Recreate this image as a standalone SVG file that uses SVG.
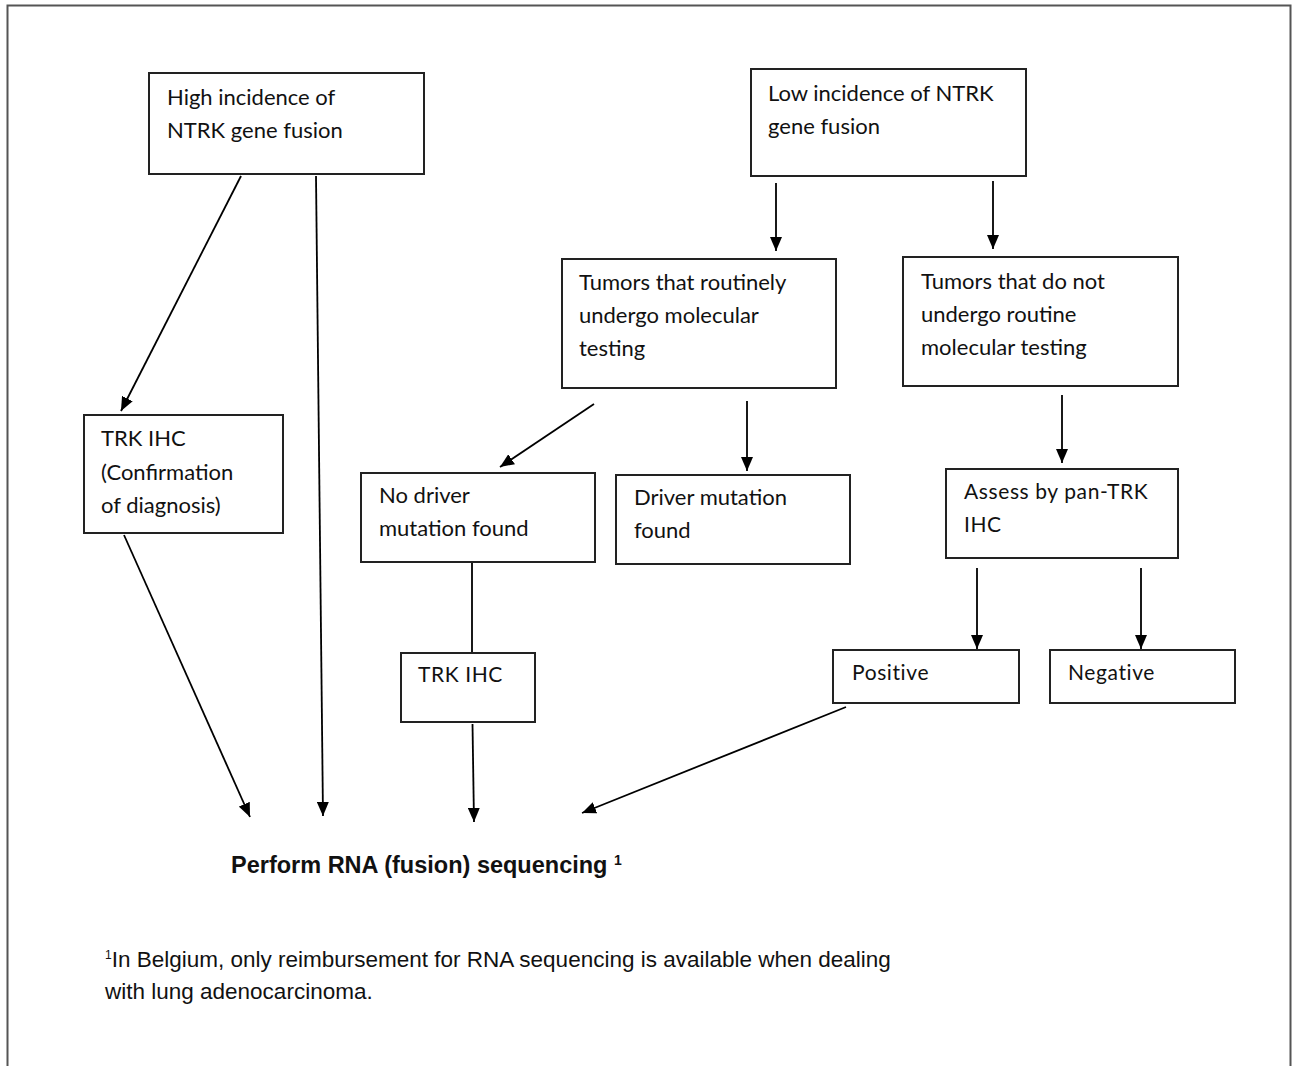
<svg xmlns="http://www.w3.org/2000/svg" width="1292" height="1066" viewBox="0 0 1292 1066">
<defs>
<marker id="ah" viewBox="0 0 14 12" refX="14" refY="6" markerWidth="14" markerHeight="12" markerUnits="userSpaceOnUse" orient="auto">
<path d="M0,0 L14,6 L0,12 Z" fill="#000"/>
</marker>
</defs>
<style>
.box{fill:#fff;stroke:#222;stroke-width:2}
.t{font-family:Lato,"Noto Sans",sans-serif;font-size:22px;fill:#111}
.ts{font-family:Lato,"Noto Sans",sans-serif;font-size:21px;letter-spacing:0.6px;fill:#111}
.c{stroke:#000;stroke-width:1.8;fill:none}
.a{marker-end:url(#ah)}
.h{font-family:"Liberation Sans",Arial,sans-serif;fill:#111}
</style>
<rect x="0" y="0" width="1292" height="1066" fill="#fff"/>
<rect x="7.5" y="5.5" width="1283" height="1080" fill="none" stroke="#555" stroke-width="2"/>

<g id="connectors">
<line class="c a" x1="241" y1="176" x2="121" y2="411"/>
<line class="c a" x1="316" y1="176" x2="323" y2="816"/>
<line class="c a" x1="124" y1="535" x2="250" y2="817"/>
<line class="c a" x1="776" y1="183" x2="776" y2="251"/>
<line class="c a" x1="993" y1="181" x2="993" y2="249"/>
<line class="c a" x1="594" y1="404" x2="500" y2="467"/>
<line class="c a" x1="747" y1="401" x2="747" y2="471"/>
<line class="c a" x1="1062" y1="395" x2="1062" y2="463"/>
<line class="c" x1="472" y1="563" x2="472" y2="653"/>
<line class="c a" x1="472.5" y1="724" x2="474" y2="822"/>
<line class="c a" x1="977" y1="568" x2="977" y2="649"/>
<line class="c a" x1="1141" y1="568" x2="1141" y2="649"/>
<line class="c a" x1="846" y1="707" x2="582" y2="813"/>
</g>

<g id="high">
<rect class="box" x="149" y="73" width="275" height="101"/>
<text class="t" x="167" y="105">High incidence of</text>
<text class="t" x="167" y="138">NTRK gene fusion</text>
</g>
<g id="low">
<rect class="box" x="751" y="69" width="275" height="107"/>
<text class="t" x="768" y="101">Low incidence of NTRK</text>
<text class="t" x="768" y="134">gene fusion</text>
</g>
<g id="routine">
<rect class="box" x="562" y="259" width="274" height="129"/>
<text class="t" x="579" y="290">Tumors that routinely</text>
<text class="t" x="579" y="323">undergo molecular</text>
<text class="t" x="579" y="356">testing</text>
</g>
<g id="notroutine">
<rect class="box" x="903" y="257" width="275" height="129"/>
<text class="t" x="921" y="289">Tumors that do not</text>
<text class="t" x="921" y="322">undergo routine</text>
<text class="t" x="921" y="355">molecular testing</text>
</g>
<g id="trkihc1">
<rect class="box" x="84" y="415" width="199" height="118"/>
<text class="t" x="101" y="446">TRK IHC</text>
<text class="t" x="101" y="480">(Confirmation</text>
<text class="t" x="101" y="513">of diagnosis)</text>
</g>
<g id="nodriver">
<rect class="box" x="361" y="473" width="234" height="89"/>
<text class="t" x="379" y="503">No driver</text>
<text class="t" x="379" y="536">mutation found</text>
</g>
<g id="driver">
<rect class="box" x="616" y="475" width="234" height="89"/>
<text class="t" x="634" y="505">Driver mutation</text>
<text class="t" x="634" y="538">found</text>
</g>
<g id="assess">
<rect class="box" x="946" y="469" width="232" height="89"/>
<text class="ts" x="964" y="499">Assess by pan-TRK</text>
<text class="ts" x="964" y="532">IHC</text>
</g>
<g id="trkihc2">
<rect class="box" x="401" y="653" width="134" height="69"/>
<text class="ts" x="418" y="682">TRK IHC</text>
</g>
<g id="positive">
<rect class="box" x="833" y="650" width="186" height="53"/>
<text class="ts" x="852" y="680">Positive</text>
</g>
<g id="negative">
<rect class="box" x="1050" y="650" width="185" height="53"/>
<text class="ts" x="1068" y="680">Negative</text>
</g>

<g id="result">
<text class="h" x="231" y="873" font-size="23.5" font-weight="bold">Perform RNA (fusion) sequencing <tspan font-size="14" dy="-8">1</tspan></text>
</g>
<g id="footnote">
<text class="h" x="105" y="967" font-size="22.5"><tspan font-size="12" dy="-8">1</tspan><tspan dy="8">In Belgium, only reimbursement for RNA sequencing is available when dealing</tspan></text>
<text class="h" x="105" y="999" font-size="22.5">with lung adenocarcinoma.</text>
</g>
</svg>
